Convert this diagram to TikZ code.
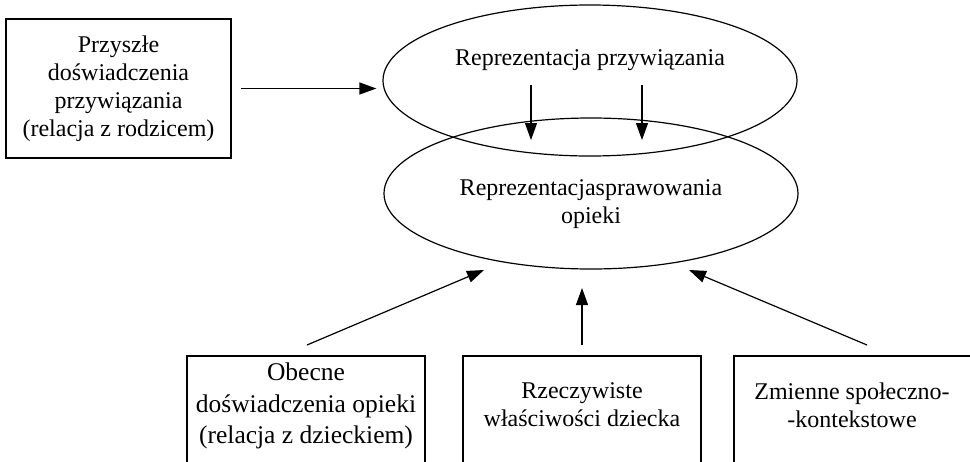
\documentclass[tikz,border=0pt]{standalone}
\usepackage{fontspec}
\setmainfont{Liberation Serif}
\usetikzlibrary{arrows.meta,shapes.geometric}
\begin{document}
\begin{tikzpicture}[x=1pt,y=-1pt,
  box/.style={draw, line width=1.3pt, inner sep=0pt, align=center},
  oval/.style={draw, ellipse, line width=1.2pt, minimum width=414pt, minimum height=151pt, inner sep=0pt},
  txt/.style={align=center, inner sep=0pt, font=\fontsize{24}{28}\selectfont},
  bigtxt/.style={align=center, inner sep=0pt, font=\fontsize{25.5}{31.5}\selectfont},
  arr/.style={-{Triangle[length=17pt,width=12pt]}, line width=1.2pt}]
\useasboundingbox (0,0) rectangle (970,461);
\clip (0,0) rectangle (970,461);
% top-left box
\node[box, txt, minimum width=225pt, minimum height=139pt] (a) at (118.5,88.5)
  {Przyszłe\\doświadczenia\\przywiązania\\(relacja z rodzicem)};
% ellipses
\node[oval] (e1) at (590,80.5) {};
\node[oval] (e2) at (591,193.5) {};
\node[txt] (te1) at (590,60) {Reprezentacja przywiązania};
\node[txt] (te2) at (591,204) {Reprezentacjasprawowania\\opieki};
% bottom boxes
\node[box, minimum width=238pt, minimum height=130pt] (b1) at (306,421) {};
\node[box, minimum width=238pt, minimum height=130pt] (b2) at (582,421) {};
\node[box, minimum width=238pt, minimum height=130pt] (b3) at (853,421) {};
\node[bigtxt] (tb1) at (306,406) {Obecne\\doświadczenia opieki\\(relacja z dzieckiem)};
\node[txt] (tb2) at (582,405) {Rzeczywiste\\właściwości dziecka};
\node[txt] (tb3) at (852,405) {Zmienne społeczno-\\-kontekstowe};
% connector points
\coordinate (d1s) at (531,85);
\coordinate (d1e) at (531,140);
\coordinate (d2s) at (642,85);
\coordinate (d2e) at (642,140);
\coordinate (u1s) at (307,345);
\coordinate (u1e) at (484,270);
\coordinate (u2s) at (582,345);
\coordinate (u2e) at (582,288);
\coordinate (u3s) at (867,345);
\coordinate (u3e) at (689,270);
% connectors
\draw[arr, shorten <=9pt, shorten >=6pt] (a.east) -- (a.east -| e1.west);
\draw[arr] (d1s) -- (d1e);
\draw[arr] (d2s) -- (d2e);
\draw[arr] (u1s) -- (u1e);
\draw[arr] (u2s) -- (u2e);
\draw[arr] (u3s) -- (u3e);
\end{tikzpicture}
\end{document}
